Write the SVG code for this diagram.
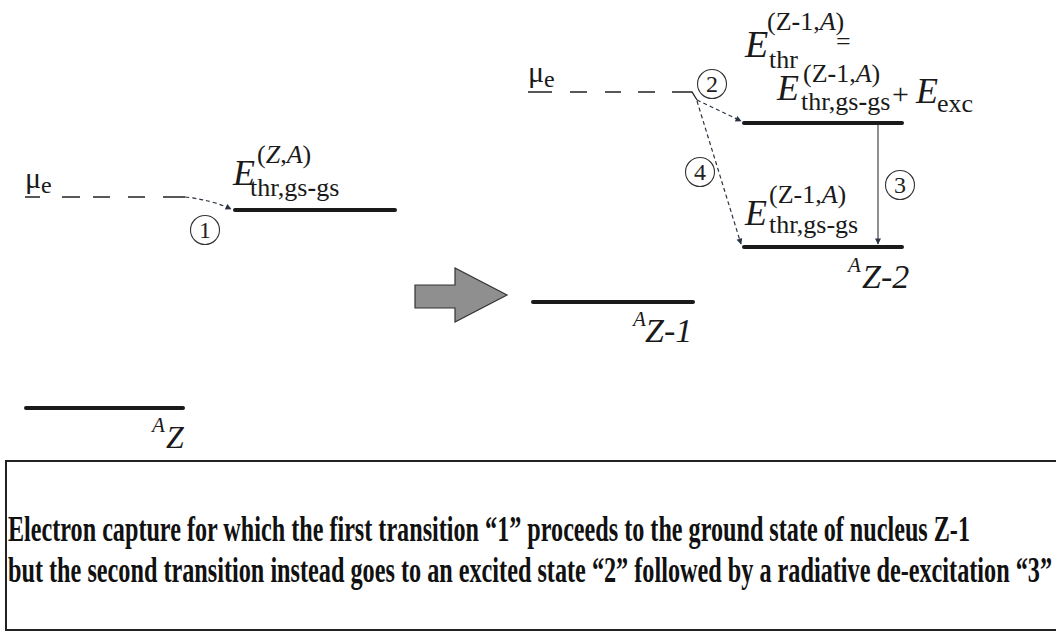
<svg xmlns="http://www.w3.org/2000/svg" width="1056" height="632" viewBox="0 0 1056 632">
<defs>
<style>
.lvl{stroke:#1a1a1a;stroke-width:4;stroke-linecap:round;fill:none}
.mud{stroke:#222;stroke-width:1.3;fill:none}
.tr{stroke:#2a3340;stroke-width:1.2;stroke-dasharray:4 3;fill:none}
.sol{stroke:#333;stroke-width:1.1;fill:none}
.circ{fill:none;stroke:#333;stroke-width:1.1}
.t{font-family:'Liberation Serif','DejaVu Serif',serif;fill:#1a1a1a}
.it{font-style:italic}
.num{font-family:'Liberation Serif','DejaVu Serif',serif;fill:#222;font-size:24px;text-anchor:middle}
.cap{font-family:'Liberation Serif','DejaVu Serif',serif;font-weight:bold;font-size:36px;fill:#111}
</style>
<marker id="ah" viewBox="0 0 10 10" refX="9" refY="5" markerWidth="8" markerHeight="6" orient="auto" markerUnits="userSpaceOnUse">
<path d="M0,0 L10,5 L0,10 z" fill="#2a3340"/>
</marker>
</defs>
<rect width="1056" height="632" fill="#fff"/>

<g id="mu-left">
<text class="t" x="25" y="188" font-size="30">μ</text>
<text class="t" x="41" y="193" font-size="24">e</text>
<path class="mud" d="M25,197 H40 M62,197 H80 M93,197 H110 M128,197 H145 M163,197 H185"/>
</g>

<g id="mu-right">
<text class="t" x="528" y="82" font-size="30">μ</text>
<text class="t" x="544" y="87" font-size="24">e</text>
<path class="mud" d="M528,92 H552 M570,92 H587 M605,92 H621 M638,92 H655 M672,92 H692 L697,100"/>
</g>

<g id="level-Z-ground">
<line class="lvl" x1="26" y1="408" x2="183" y2="408"/>
<text class="t it" x="152" y="432" font-size="21">A</text>
<text class="t it" x="166" y="448" font-size="32">Z</text>
</g>

<g id="level-Z-threshold">
<line class="lvl" x1="235" y1="210" x2="395" y2="210"/>
<text class="t it" x="233" y="185" font-size="36">E</text>
<text class="t" x="257" y="163" font-size="26">(<tspan class="it">Z</tspan>,<tspan class="it">A</tspan>)</text>
<text class="t" x="250" y="196" font-size="26">thr,gs<tspan font-weight="bold">-</tspan>gs</text>
</g>

<g id="big-arrow">
<polygon points="415,285 455,285 455,268 507,295 455,322 455,308 415,308" fill="#8f8f8f" stroke="#333" stroke-width="1.2"/>
</g>

<g id="level-Z1">
<line class="lvl" x1="533" y1="302" x2="693" y2="302"/>
<text class="t it" x="633" y="326" font-size="21">A</text>
<text class="t it" x="645" y="342" font-size="34">Z-1</text>
</g>

<g id="label-top">
<text class="t it" x="745" y="57" font-size="38">E</text>
<text class="t" x="767" y="30" font-size="26">(Z<tspan font-weight="bold">-</tspan>1,<tspan class="it">A</tspan>)</text>
<text class="t" x="769" y="68" font-size="26">thr</text>
<text class="t" x="836" y="50" font-size="26">=</text>
</g>

<g id="level-Z2-excited">
<line class="lvl" x1="744" y1="123" x2="902" y2="123"/>
<text class="t it" x="777" y="100" font-size="36">E</text>
<text class="t" x="803" y="82" font-size="26">(Z<tspan font-weight="bold">-</tspan>1,<tspan class="it">A</tspan>)</text>
<text class="t" x="801" y="110" font-size="26">thr,gs<tspan font-weight="bold">-</tspan>gs</text>
<text class="t" x="892" y="104" font-size="30">+</text>
<text class="t it" x="916" y="103" font-size="36">E</text>
<text class="t" x="937" y="112" font-size="26">exc</text>
</g>

<g id="level-Z2-ground">
<line class="lvl" x1="744" y1="247" x2="902" y2="247"/>
<text class="t it" x="745" y="225" font-size="36">E</text>
<text class="t" x="769" y="203" font-size="26">(Z-1,<tspan class="it">A</tspan>)</text>
<text class="t" x="769" y="233" font-size="26">thr,gs-gs</text>
<text class="t it" x="848" y="272" font-size="21">A</text>
<text class="t it" x="862" y="288" font-size="34">Z-2</text>
</g>

<g id="connectors">
<path class="tr" d="M185,197 Q212,200 231,209" marker-end="url(#ah)"/>
<path class="tr" d="M697,100 L741,121" marker-end="url(#ah)"/>
<path class="tr" d="M697,101 L741,244" marker-end="url(#ah)"/>
<path class="sol" d="M878,124 V244" marker-end="url(#ah)"/>
</g>

<g id="step-labels">
<circle class="circ" cx="205" cy="230" r="14.5"/><text class="num" x="205" y="238">1</text>
<circle class="circ" cx="712" cy="84" r="14.5"/><text class="num" x="712" y="92">2</text>
<circle class="circ" cx="900" cy="185" r="14.5"/><text class="num" x="900" y="193">3</text>
<circle class="circ" cx="700" cy="172" r="14.5"/><text class="num" x="700" y="180">4</text>
</g>

<g id="caption">
<rect x="6" y="461" width="1060" height="169" fill="none" stroke="#222" stroke-width="2"/>
<text class="cap" x="8" y="541" textLength="962" lengthAdjust="spacingAndGlyphs">Electron capture for which the first transition “1” proceeds to the ground state of nucleus Z-1</text>
<text class="cap" x="8" y="582" textLength="1044" lengthAdjust="spacingAndGlyphs">but the second transition instead goes to an excited state “2” followed by a radiative de-excitation “3”</text>
</g>
</svg>
